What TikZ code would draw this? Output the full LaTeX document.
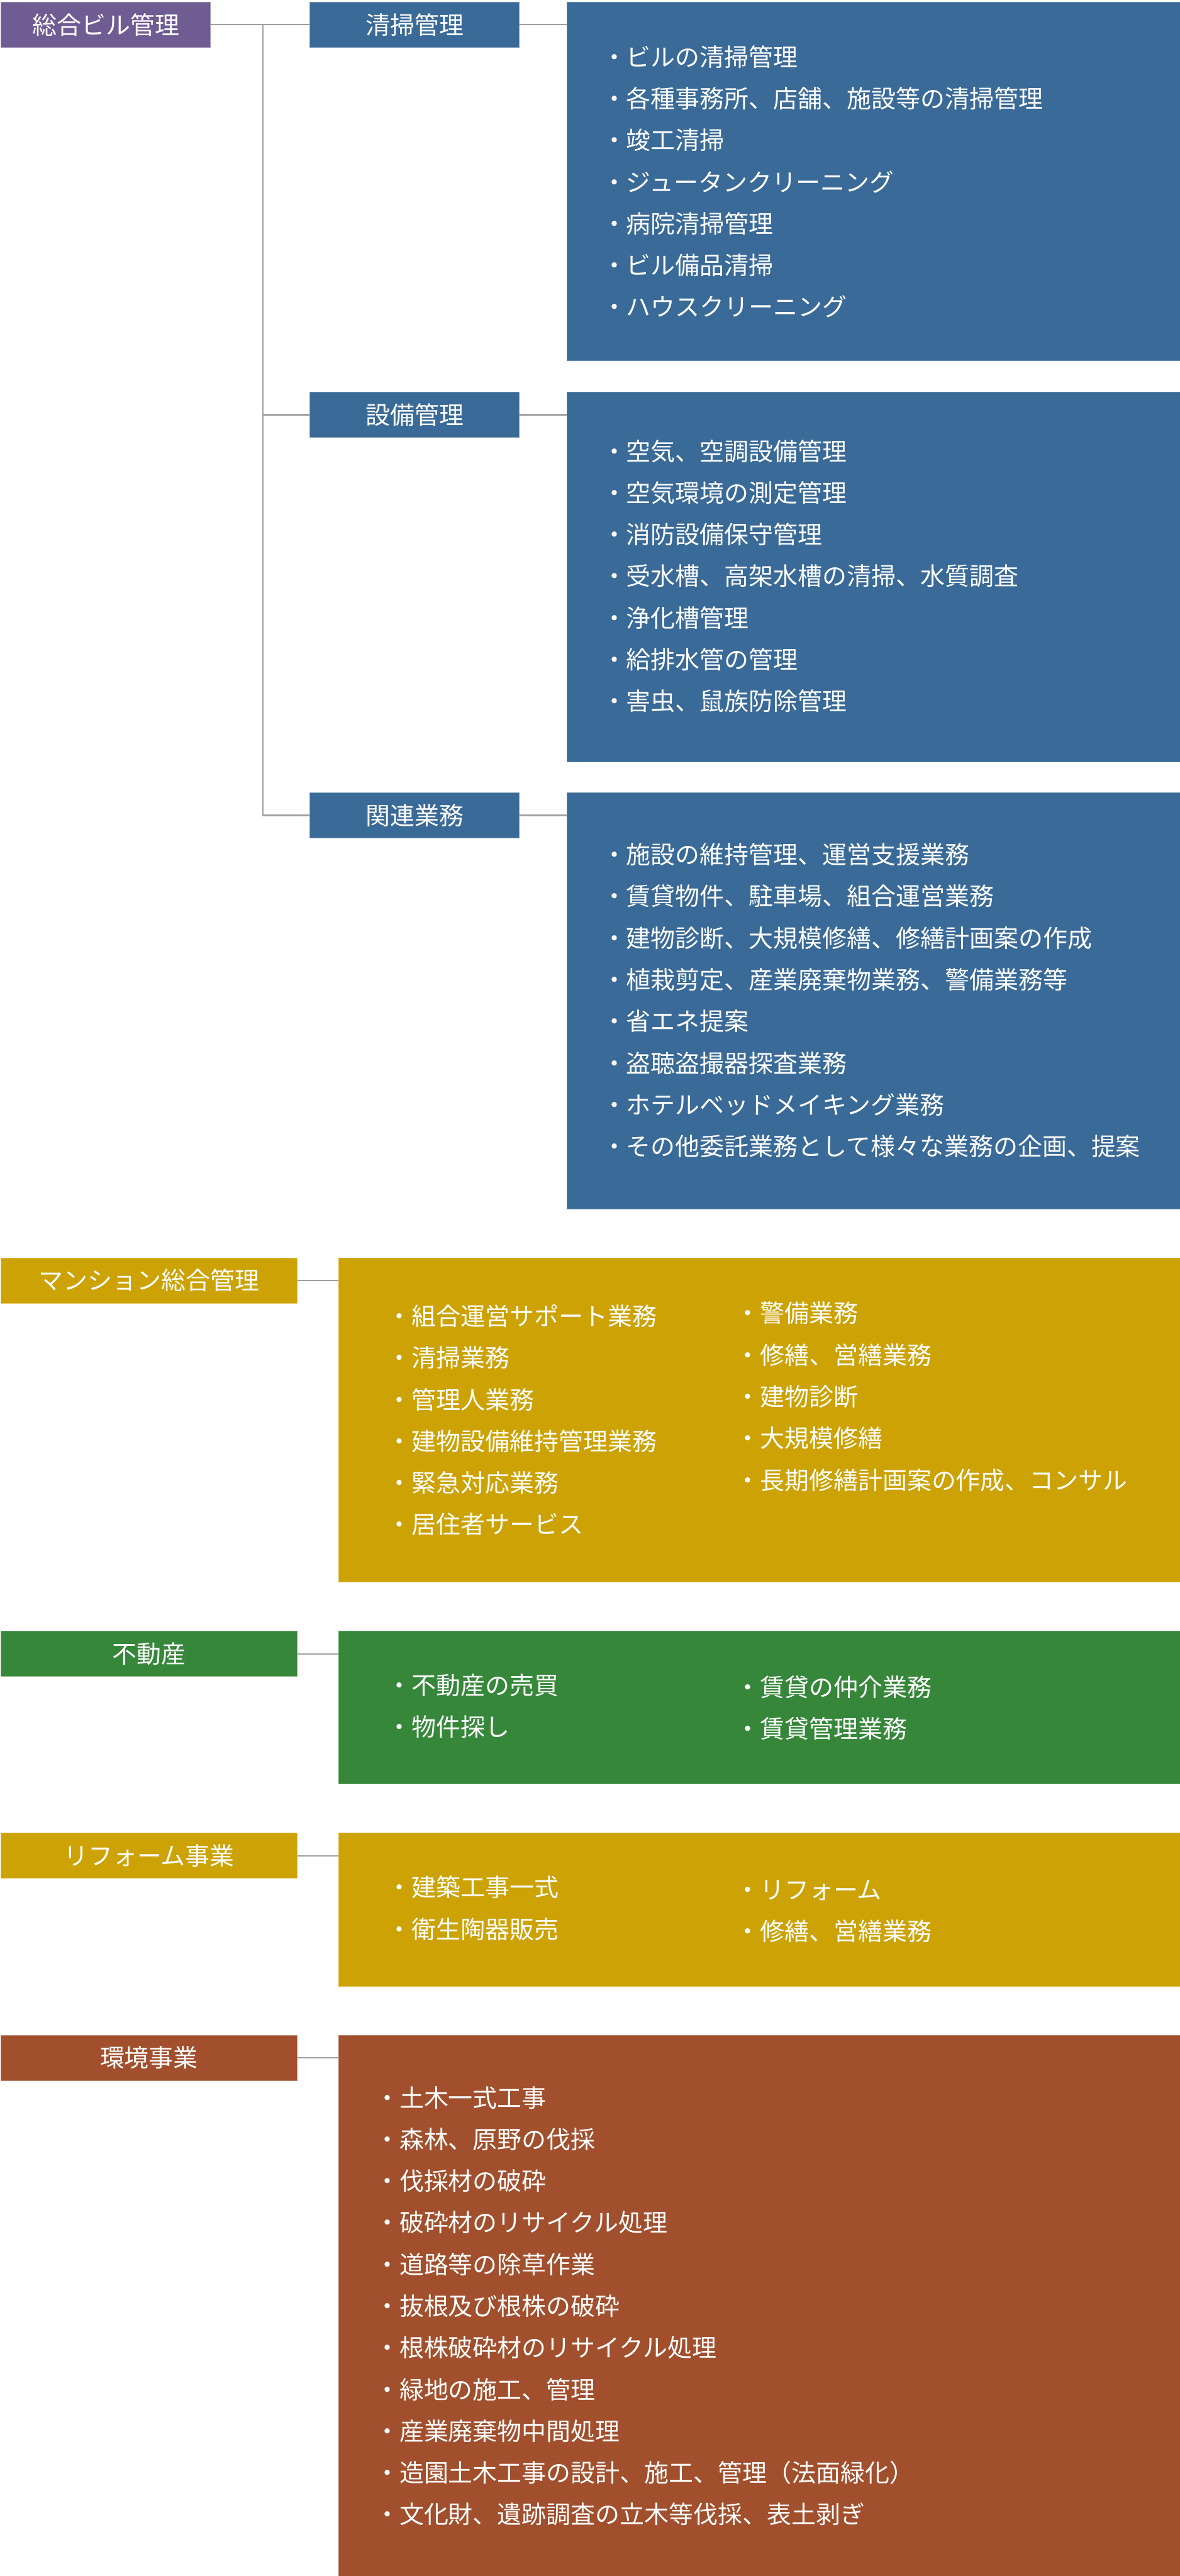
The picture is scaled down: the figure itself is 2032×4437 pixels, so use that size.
\documentclass[tikz,border=0pt]{standalone}
\usepackage{fontspec}
\setmainfont{Noto Sans CJK JP}
\usetikzlibrary{calc}
\definecolor{bizpurple}{HTML}{6F5C93}
\definecolor{bizblue}{HTML}{3A6A97}
\definecolor{bizgold}{HTML}{CCA205}
\definecolor{bizgreen}{HTML}{36873A}
\definecolor{bizrust}{HTML}{A14F2D}
\definecolor{linkgray}{HTML}{A0A0A0}
% head label box: name, x, y (top), width, colour, text
\newcommand{\headbox}[6]{%
  \node[fill=#5, draw=#5!65!white, line width=0.3pt, anchor=north west,
        minimum width=#4, minimum height=0.78cm, inner sep=0pt,
        text=white] (#1) at (#2,#3) {#6};}
% coloured panel: name, x, y (top), width, height, colour
\newcommand{\panelbox}[6]{%
  \node[fill=#6, draw=#6!75!white, line width=0.3pt, anchor=north west,
        minimum width=#4, minimum height=#5, inner sep=0pt] (#1) at (#2,#3) {};}
% bullet lines: name, x, first baseline, items
\newcommand{\itemlines}[4]{%
  \foreach \entry [count=\i] in {#4}
    \node[anchor=base west, inner sep=0pt, text=white]
      (#1-\i) at (#2,{#3+71.8*(\i-1)}) {・\entry};}

\begin{document}
\begin{tikzpicture}[x=0.01cm, y=-0.01cm,
    font=\fontsize{12pt}{14pt}\selectfont,
    link/.style={draw=linkgray, line width=0.7pt}]
  \useasboundingbox (0,0) rectangle (2032,4437);

  % building management tree
  \headbox{top}{1}{3}{3.61cm}{bizpurple}{総合ビル管理}
  \headbox{clean}{533}{3}{3.61cm}{bizblue}{清掃管理}
  \headbox{equip}{533}{675}{3.61cm}{bizblue}{設備管理}
  \headbox{rel}{533}{1365}{3.61cm}{bizblue}{関連業務}
  \panelbox{cleanlist}{976}{3}{10.56cm}{6.17cm}{bizblue}
  \panelbox{equiplist}{976}{675}{10.56cm}{6.36cm}{bizblue}
  \panelbox{rellist}{976}{1365}{10.56cm}{7.17cm}{bizblue}
  \coordinate (trunk) at (453,0);
  \draw[link] (top.east) -- (clean.west);
  \draw[link] (trunk |- clean.west) |- (rel.west);
  \draw[link] (trunk |- equip.west) -- (equip.west);
  \draw[link] (clean.east) -- (clean.east -| cleanlist.west);
  \draw[link] (equip.east) -- (equip.east -| equiplist.west);
  \draw[link] (rel.east) -- (rel.east -| rellist.west);
  \itemlines{cl}{1036}{114}{ビルの清掃管理, 各種事務所、店舗、施設等の清掃管理, 竣工清掃,
    ジュータンクリーニング, 病院清掃管理, ビル備品清掃, ハウスクリーニング}
  \itemlines{eq}{1036}{793}{空気、空調設備管理, 空気環境の測定管理, 消防設備保守管理,
    受水槽、高架水槽の清掃、水質調査, 浄化槽管理, 給排水管の管理, 害虫、鼠族防除管理}
  \itemlines{rl}{1036}{1488}{施設の維持管理、運営支援業務, 賃貸物件、駐車場、組合運営業務,
    建物診断、大規模修繕、修繕計画案の作成, 植栽剪定、産業廃棄物業務、警備業務等,
    省エネ提案, 盗聴盗撮器探査業務, ホテルベッドメイキング業務,
    その他委託業務として様々な業務の企画、提案}

  % mansion
  \headbox{mansion}{1}{2166}{5.10cm}{bizgold}{マンション総合管理}
  \panelbox{mansionlist}{583}{2166}{14.49cm}{5.58cm}{bizgold}
  \draw[link] (mansion.east) -- (mansion.east -| mansionlist.west);
  \itemlines{ma}{666}{2283}{組合運営サポート業務, 清掃業務, 管理人業務,
    建物設備維持管理業務, 緊急対応業務, 居住者サービス}
  \itemlines{mb}{1266}{2278}{警備業務, 修繕、営繕業務, 建物診断, 大規模修繕,
    長期修繕計画案の作成、コンサル}

  % real estate
  \headbox{estate}{1}{2809}{5.10cm}{bizgreen}{不動産}
  \panelbox{estatelist}{583}{2809}{14.49cm}{2.63cm}{bizgreen}
  \draw[link] (estate.east) -- (estate.east -| estatelist.west);
  \itemlines{ea}{666}{2919}{不動産の売買, 物件探し}
  \itemlines{eb}{1266}{2922}{賃貸の仲介業務, 賃貸管理業務}

  % reform
  \headbox{reform}{1}{3157}{5.10cm}{bizgold}{リフォーム事業}
  \panelbox{reformlist}{583}{3157}{14.49cm}{2.64cm}{bizgold}
  \draw[link] (reform.east) -- (reform.east -| reformlist.west);
  \itemlines{ra}{666}{3267}{建築工事一式, 衛生陶器販売}
  \itemlines{rb}{1266}{3271}{リフォーム, 修繕、営繕業務}

  % environment
  \headbox{env}{1}{3505}{5.10cm}{bizrust}{環境事業}
  \panelbox{envlist}{583}{3505}{14.49cm}{9.32cm}{bizrust}
  \draw[link] (env.east) -- (env.east -| envlist.west);
  \itemlines{ev}{645}{3629}{土木一式工事, 森林、原野の伐採, 伐採材の破砕,
    破砕材のリサイクル処理, 道路等の除草作業, 抜根及び根株の破砕,
    根株破砕材のリサイクル処理, 緑地の施工、管理, 産業廃棄物中間処理,
    造園土木工事の設計、施工、管理（法面緑化）, 文化財、遺跡調査の立木等伐採、表土剥ぎ}
\end{tikzpicture}
\end{document}
